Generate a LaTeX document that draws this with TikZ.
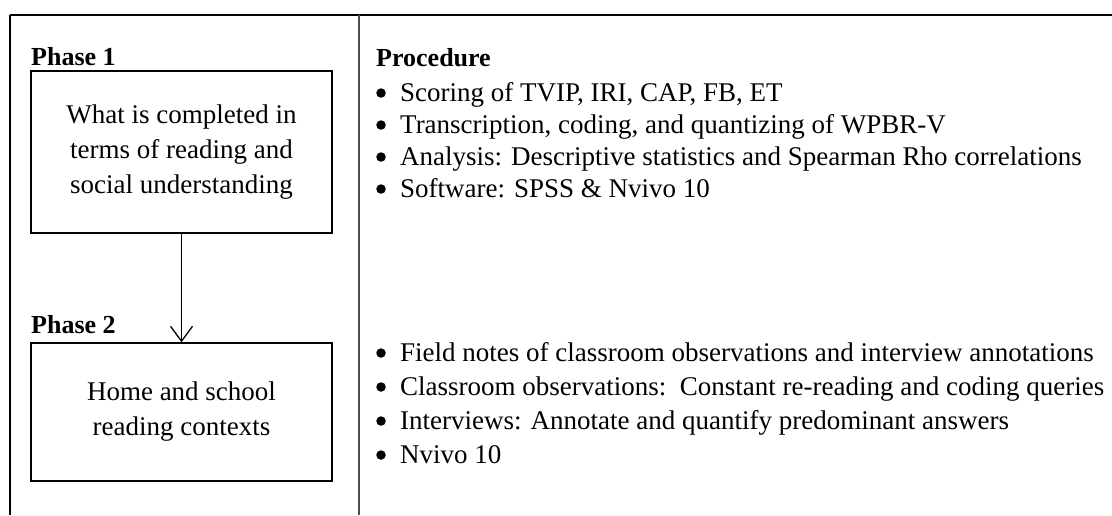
\documentclass[tikz,border=0pt]{standalone}
\usepackage{fontspec}
\setmainfont{Liberation Serif}
\usetikzlibrary{arrows.meta}
\tikzset{
  phasebox/.style={draw, line width=1.3pt, minimum width=301pt, align=center, inner sep=0pt},
  heading/.style={anchor=base west, inner sep=0pt, font=\fontsize{26}{30}\selectfont\bfseries},
  itemtext/.style={anchor=base west, inner sep=0pt},
  bul/.style={circle, fill=black, inner sep=0pt, minimum size=9.5pt},
  flow/.style={line width=1.3pt, -{Straight Barb[length=15pt,width=22pt,line width=1.3pt]}}
}
\begin{document}
\begin{tikzpicture}[x=1pt,y=-1pt,font=\fontsize{27}{35}\selectfont]
\useasboundingbox (0,0) rectangle (1112,515);
% frame
\draw[line width=2pt] (10,14.5) -- (1112,14.5);
\draw[line width=1.8pt] (10,14.5) -- (10,515);
\draw[line width=1.1pt, black!70] (359,14.5) -- (359,515);
% left column
\node[heading] (p1) at (31,65) {Phase 1};
\node[phasebox, minimum height=162pt] (box1) at (181.5,152) {What is completed in\\terms of reading and\\social understanding};
\node[heading] (p2) at (31,333) {Phase 2};
\node[phasebox, minimum height=138pt] (box2) at (181.5,412) {Home and school\\reading contexts};
\draw[flow] (box1.south) -- (box2.north);
% right column
\node[heading] (proc) at (376,66) {Procedure};
\foreach \y/\t [count=\i] in {101/{Scoring of TVIP, IRI, CAP, FB, ET},
  133/{Transcription, coding, and quantizing of WPBR-V},
  165/{Analysis: Descriptive statistics and Spearman Rho correlations},
  197/{Software: SPSS \& Nvivo 10},
  361/{Field notes of classroom observations and interview annotations},
  395/{Classroom observations:\ \ Constant re-reading and coding queries},
  429/{Interviews: Annotate and quantify predominant answers},
  463/{Nvivo 10}}{
  \node[bul] (b\i) at (381,\y-8) {};
  \node[itemtext] (t\i) at (400,\y) {\t};
}
\end{tikzpicture}
\end{document}
